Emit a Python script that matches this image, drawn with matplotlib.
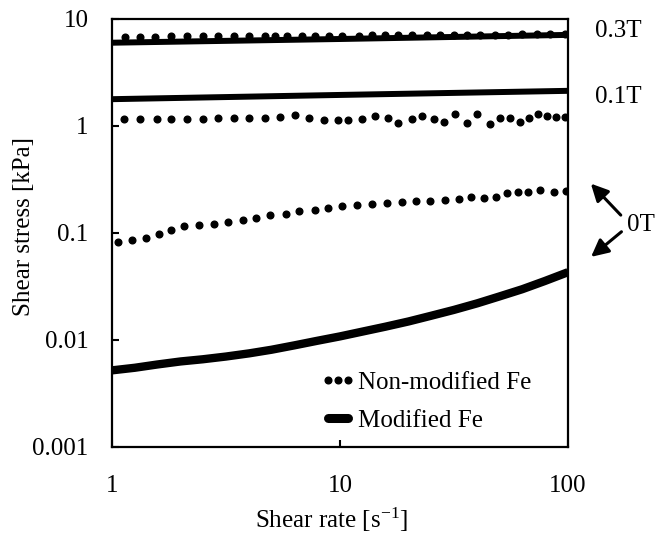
"""
shear stress vs shear rate, log-log
"""
import matplotlib.pyplot as plt
from matplotlib.lines import Line2D

plt.rcParams['font.family'] = ['Liberation Serif', 'DejaVu Serif']
plt.rcParams['mathtext.fontset'] = 'custom'
plt.rcParams['mathtext.rm'] = 'Liberation Serif'
plt.rcParams['mathtext.default'] = 'regular'
plt.rcParams['font.size'] = 18

# non-modified Fe, 0.3T (dots)
rate_03_dots = [1.14, 1.33, 1.55, 1.82, 2.13, 2.51, 2.92, 3.42, 4.00, 4.67, 5.19, 5.87,
                6.79, 7.77, 8.95, 10.2, 12.1, 13.8, 15.8, 18.0, 20.6, 24.0, 27.5, 31.5,
                36.0, 41.1, 48.0, 54.8, 62.7, 73.1, 83.5, 97.3]
stress_03_dots = [6.85, 6.85, 6.85, 6.9, 6.9, 6.9, 6.9, 6.95, 6.95, 6.95, 6.95, 7.0,
                  7.0, 7.0, 7.0, 7.0, 7.0, 7.05, 7.05, 7.05, 7.05, 7.1, 7.1, 7.1,
                  7.1, 7.15, 7.15, 7.15, 7.2, 7.3, 7.3, 7.3]

# non-modified Fe, 0.1T (dots)
rate_01_dots = [1.13, 1.33, 1.57, 1.82, 2.13, 2.51, 2.92, 3.42, 4.00, 4.67, 5.44, 6.34,
                7.33, 8.48, 9.77, 10.8, 12.5, 14.2, 16.2, 18.0, 20.6, 23.0, 25.8, 28.6,
                32.1, 36.0, 40.0, 45.3, 50.2, 55.9, 61.5, 67.6, 73.9, 81.3, 88.5, 97.3]
stress_01_dots = [1.15, 1.16, 1.16, 1.16, 1.16, 1.17, 1.18, 1.19, 1.19, 1.20, 1.22, 1.27,
                  1.20, 1.14, 1.14, 1.14, 1.16, 1.24, 1.18, 1.06, 1.15, 1.24, 1.15, 1.10,
                  1.29, 1.07, 1.29, 1.04, 1.18, 1.18, 1.10, 1.18, 1.30, 1.24, 1.22, 1.22]

# non-modified Fe, 0T (dots)
rate_0_dots = [1.06, 1.22, 1.41, 1.61, 1.82, 2.07, 2.41, 2.81, 3.23, 3.75, 4.30, 4.94,
               5.78, 6.64, 7.74, 8.85, 10.2, 11.9, 13.8, 16.1, 18.7, 21.6, 24.8, 28.9,
               33.2, 37.5, 42.7, 48.3, 54.0, 60.5, 67.1, 75.3, 86.5, 98.5]
stress_0_dots = [0.082, 0.086, 0.090, 0.097, 0.107, 0.116, 0.119, 0.122, 0.128, 0.132, 0.138, 0.148,
                 0.152, 0.159, 0.164, 0.170, 0.179, 0.181, 0.188, 0.191, 0.194, 0.198, 0.198, 0.202,
                 0.206, 0.216, 0.211, 0.219, 0.235, 0.243, 0.243, 0.254, 0.243, 0.249]

# modified Fe (solid lines)
rate_03_line = [1, 10, 100]
stress_03_line = [6.0, 6.5, 7.1]
rate_01_line = [1, 10, 100]
stress_01_line = [1.78, 1.95, 2.13]
rate_0_line = [1, 1.26, 1.58, 2, 2.5, 3.16, 4, 5, 6.3, 7.9, 10, 12.6, 15.8, 20, 25, 31.6,
               40, 50, 63, 79, 100]
stress_0_line = [0.0052, 0.0055, 0.0059, 0.0063, 0.0066, 0.0070, 0.0075, 0.0081, 0.0089,
                 0.0098, 0.0108, 0.0120, 0.0133, 0.0149, 0.0168, 0.0191, 0.0220, 0.0255,
                 0.0298, 0.0355, 0.043]

fig = plt.figure(figsize=(6.56, 5.33), dpi=100)
ax = fig.add_axes([0.1707, 0.1614, 0.6951, 0.8030])

dot = dict(color='black', marker='o', markersize=4.8, linestyle='none')
ax.plot(rate_03_line, stress_03_line, '-k', lw=4.3, solid_capstyle='butt')
ax.plot(rate_03_dots, stress_03_dots, **dot)
ax.plot(rate_01_line, stress_01_line, '-k', lw=4.3, solid_capstyle='butt')
ax.plot(rate_01_dots, stress_01_dots, **dot)
ax.plot(rate_0_dots, stress_0_dots, **dot)
ax.plot(rate_0_line, stress_0_line, '-k', lw=6, solid_capstyle='butt')

ax.set_xscale('log')
ax.set_yscale('log')
ax.set_xlim(1, 100)
ax.set_ylim(0.001, 10)
ax.set_xticks([1, 10, 100])
ax.set_xticklabels(['1', '10', '100'])
ax.set_yticks([0.001, 0.01, 0.1, 1, 10])
ax.set_yticklabels(['0.001', '0.01', '0.1', '1', '10'])
ax.minorticks_off()
ax.tick_params(direction='in', length=5, width=1.5)
ax.tick_params(axis='x', pad=20)
ax.tick_params(axis='y', pad=17)
for s in ax.spines.values():
    s.set_linewidth(1.6)

ax.set_xlabel('Shear rate [s$^{-1}$]')
ax.set_ylabel('Shear stress [kPa]')
ax.xaxis.set_label_coords(0.482, -0.138)
ax.yaxis.set_label_coords(-0.169, 0.516)

handles = [Line2D([], [], color='black', marker='o', markersize=4.8, linestyle='none'),
           Line2D([], [], color='black', lw=6.5, solid_capstyle='round')]
ax.legend(handles, ['Non-modified Fe', 'Modified Fe'], loc='upper left',
          bbox_to_anchor=(0.43, 0.205), frameon=False, numpoints=3,
          handlelength=1.4, handletextpad=0.1, labelspacing=0.6, borderpad=0)

ax.text(1.11, 0.972, '0.3T', transform=ax.transAxes, ha='center', va='center')
ax.text(1.11, 0.818, '0.1T', transform=ax.transAxes, ha='center', va='center')
ax.text(1.16, 0.519, '0T', transform=ax.transAxes, ha='center', va='center')
arrow = dict(arrowstyle='-|>', color='black', lw=2.2, mutation_scale=26)
ax.annotate('', xy=(1.046, 0.62), xytext=(1.12, 0.537), xycoords='axes fraction',
            arrowprops=arrow)
ax.annotate('', xy=(1.046, 0.44), xytext=(1.122, 0.507), xycoords='axes fraction',
            arrowprops=arrow)

plt.savefig('out.png', dpi=100)
